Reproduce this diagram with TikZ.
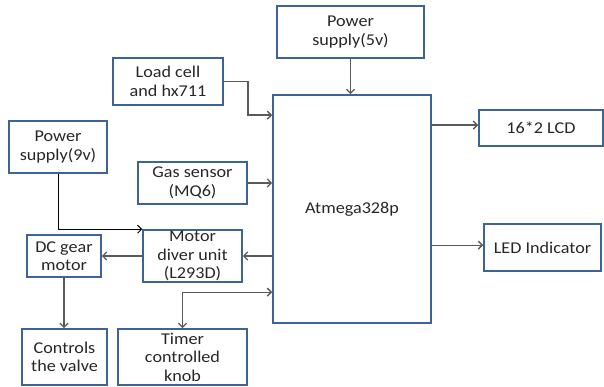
\documentclass[tikz,border=0pt]{standalone}
\usepackage{fontspec}
\setmainfont[FakeStretch=1.1]{Carlito}
\usetikzlibrary{arrows.meta}
\definecolor{boxblue}{HTML}{3D6397}
\definecolor{arrgray}{HTML}{5A5A5A}
\definecolor{txt}{HTML}{262626}
\begin{document}
\begin{tikzpicture}[x=1pt,y=-1pt,
  blk/.style={draw=boxblue,line width=1.7pt,inner sep=0pt,align=center,text=txt,
    font=\fontsize{16.5}{18.5}\selectfont},
  arr/.style={draw=arrgray,line width=1.3pt,-{Straight Barb[length=4pt,width=8pt]}},
  blkline/.style={draw=black,line width=0.9pt,-{Straight Barb[length=4pt,width=8pt]}}]
\useasboundingbox (0,0) rectangle (604,387);
\node[blk,minimum width=110pt,minimum height=47pt] (load) at (168,81.5) {Load cell\\and hx711};
\node[blk,minimum width=147pt,minimum height=52pt] (p5) at (350.5,32) {Power\\supply(5v)};
\node[blk,minimum width=158pt,minimum height=228pt] (atm) at (352,209) {Atmega328p};
\node[blk,minimum width=98pt,minimum height=52pt] (p9) at (58,147) {Power\\supply(9v)};
\node[blk,minimum width=109pt,minimum height=42pt] (gas) at (192.5,183) {Gas sensor\\(MQ6)};
\node[blk,minimum width=99pt,minimum height=52pt] (md) at (192.5,256) {Motor\\diver unit\\(L293D)};
\node[blk,minimum width=74pt,minimum height=42pt] (dc) at (64,256) {DC gear\\motor};
\node[blk,minimum width=85pt,minimum height=56pt] (ctrl) at (64.5,357) {Controls\\the valve};
\node[blk,minimum width=129pt,minimum height=56pt] (timer) at (182.5,357) {Timer\\controlled\\knob};
\node[blk,minimum width=124pt,minimum height=36pt] (lcd) at (541,128) {16*2 LCD};
\node[blk,minimum width=117pt,minimum height=47pt] (led) at (542.5,247.5) {LED Indicator};
\draw[arr] (load.east) -- ++(24,0) |- ([yshift=-21pt]atm.north west);
\draw[arr] (p5.south) -- (p5.south |- atm.north);
\draw[arr] (gas.east) -- (gas.east -| atm.west);
\draw[blkline] (p9.south) |- (md.north west);
\draw[arr] (atm.west |- md.east) -- (md.east);
\draw[arr] (md.west) -- (dc.east);
\draw[arr] (dc.south) -- (dc.south |- ctrl.north);
\draw[arr,{Straight Barb[length=4pt,width=8pt]}-{Straight Barb[length=4pt,width=8pt]}] (timer.north) |- ([yshift=-198pt]atm.north west);
\draw[arr] ([yshift=-31pt]atm.north east) -- ([yshift=-31pt]atm.north east -| lcd.west);
\draw[arr] ([yshift=-151pt]atm.north east) -- ([yshift=-151pt]atm.north east -| led.west);
\end{tikzpicture}
\end{document}
